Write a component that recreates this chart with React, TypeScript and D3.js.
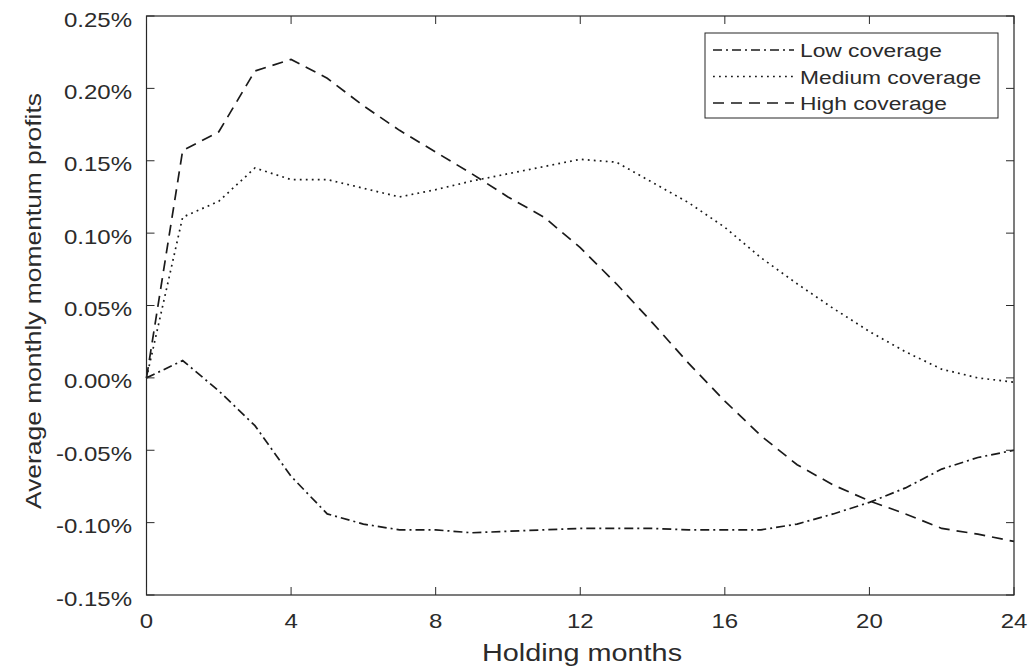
import React from "react";
import * as d3 from "d3";

const months = d3.range(0, 25);
const lowCoverage = [0, 0.012, -0.009, -0.033, -0.068, -0.094, -0.101, -0.105, -0.105, -0.107, -0.106, -0.105, -0.104, -0.104, -0.104, -0.105, -0.105, -0.105, -0.101, -0.094, -0.086, -0.076, -0.063, -0.055, -0.05];
const mediumCoverage = [0, 0.111, 0.122, 0.145, 0.137, 0.137, 0.131, 0.125, 0.13, 0.136, 0.141, 0.146, 0.151, 0.149, 0.135, 0.121, 0.104, 0.083, 0.065, 0.048, 0.032, 0.018, 0.006, 0.0, -0.003];
const highCoverage = [0, 0.157, 0.17, 0.212, 0.22, 0.207, 0.188, 0.171, 0.156, 0.141, 0.125, 0.111, 0.09, 0.065, 0.038, 0.01, -0.016, -0.04, -0.06, -0.074, -0.085, -0.094, -0.104, -0.108, -0.113];
const xTicks = [0, 4, 8, 12, 16, 20, 24];
const yTicks = [-0.15, -0.1, -0.05, 0, 0.05, 0.1, 0.15, 0.2, 0.25];

const series = [
  { name: "Low coverage", values: lowCoverage, dash: "9,4,2,4" },
  { name: "Medium coverage", values: mediumCoverage, dash: "1.8,4.2" },
  { name: "High coverage", values: highCoverage, dash: "11,7" },
];

const App = () => {
  const left = 146.5, right = 1014, top = 16, bottom = 595;
  const x = d3.scaleLinear().domain([0, 24]).range([left, right]);
  const y = d3.scaleLinear().domain([-0.15, 0.25]).range([bottom, top]);
  const line = d3
    .line<number>()
    .x((d, i) => x(months[i]))
    .y((d) => y(d));
  const font = "'Liberation Sans', Arial, sans-serif";
  const tickColor = "#2b2b2b";
  const sx = 1.2; // text in the picture is a little wider than tall
  const fmt = (t: number) => t.toFixed(2) + "%"; // plain hyphen minus, like the original

  return (
    <svg width={1032} height={668} style={{ position: "absolute", left: 0, top: 0 }}>
      <rect width={1032} height={668} fill="#fff" />
      {series.map((s) => (
        <path key={s.name} d={line(s.values) || ""} fill="none" stroke="#1a1a1a" strokeWidth={1.7} strokeDasharray={s.dash} />
      ))}
      <rect x={left} y={top} width={right - left} height={bottom - top} fill="none" stroke="#262626" strokeWidth={1.2} />
      {xTicks.map((t) => (
        <g key={"x" + t}>
          <line x1={x(t)} x2={x(t)} y1={bottom} y2={bottom - 8} stroke={tickColor} />
          <line x1={x(t)} x2={x(t)} y1={top} y2={top + 8} stroke={tickColor} />
          <text transform={`translate(${x(t)},628) scale(${sx},1)`} textAnchor="middle" fontFamily={font} fontSize={20} fill={tickColor}>
            {t}
          </text>
        </g>
      ))}
      {yTicks.map((t) => (
        <g key={"y" + t}>
          <line x1={left} x2={left + 8} y1={y(t)} y2={y(t)} stroke={tickColor} />
          <line x1={right} x2={right - 8} y1={y(t)} y2={y(t)} stroke={tickColor} />
          <text transform={`translate(132,${y(t) + 10.5}) scale(${sx},1)`} textAnchor="end" fontFamily={font} fontSize={20} fill={tickColor}>
            {fmt(Math.abs(t) < 1e-9 ? 0 : t)}
          </text>
        </g>
      ))}
      <text transform={`translate(582,661) scale(${sx},1)`} textAnchor="middle" fontFamily={font} fontSize={24} fill={tickColor}>
        Holding months
      </text>
      <text transform={`translate(41,301) rotate(-90) scale(${sx},1)`} textAnchor="middle" fontFamily={font} fontSize={22} fill={tickColor}>
        Average monthly momentum profits
      </text>
      <g>
        <rect x={705} y={33} width={293} height={85} fill="#fff" stroke="#262626" strokeWidth={1} />
        {series.map((s, i) => (
          <g key={"lg" + s.name}>
            <line x1={713} x2={794} y1={50 + i * 26.5} y2={50 + i * 26.5} stroke="#1a1a1a" strokeWidth={1.6} strokeDasharray={s.dash} />
            <text transform={`translate(800,${57 + i * 26.5}) scale(${sx},1)`} fontFamily={font} fontSize={19} fill={tickColor}>
              {s.name}
            </text>
          </g>
        ))}
      </g>
    </svg>
  );
};

export default App;
